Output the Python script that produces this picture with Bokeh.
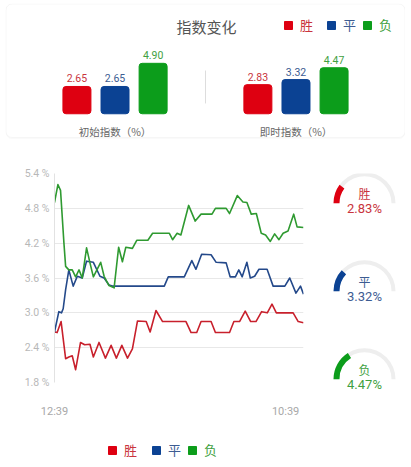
import math
from bokeh.plotting import figure
from bokeh.models import (Range1d, FactorRange, ColumnDataSource, Legend, LegendItem, Label,
                          BoxAnnotation, FixedTicker, PrintfTickFormatter)
from bokeh.layouts import column, row
from bokeh.embed import file_html
from bokeh.resources import INLINE
from bokeh.core.properties import value

# ---------------- data ----------------
outcomes = ["胜", "平", "负"]
bar_colors = ["#de0011", "#0b4293", "#0c9d1b"]
text_colors = ["#c9343d", "#3d5c92", "#3f9f42"]
line_colors = ["#c8202c", "#24498a", "#2f9a31"]
groups = ["初始指数（%）", "即时指数（%）"]
initial_idx = [2.65, 2.65, 4.90]
live_idx = [2.83, 3.32, 4.47]
title_text = "指数变化"

# minutes after 12:39 and index values (%)
win_t = [0, 14, 35, 59, 76, 94, 112, 138, 160, 188, 206, 236, 270, 300, 328, 357, 387, 413,
         440, 486, 507, 538, 573, 697, 724, 754, 777, 830, 853, 928, 951, 981, 1011, 1040,
         1068, 1098, 1128, 1153, 1176, 1265, 1292, 1320]
win_v = [2.67, 2.66, 2.85, 2.21, 2.24, 2.26, 2.02, 2.49, 2.45, 2.46, 2.24, 2.49, 2.22, 2.44,
         2.22, 2.44, 2.22, 2.38, 2.86, 2.85, 2.67, 3.04, 2.85, 2.85, 2.66, 2.66, 2.85, 2.85,
         2.66, 2.66, 2.85, 2.85, 3.03, 2.85, 2.85, 3.02, 3.00, 3.15, 3.00, 3.00, 2.85, 2.83]

draw_t = [0, 23, 37, 46, 59, 76, 99, 121, 147, 170, 206, 241, 263, 289, 307, 582, 603, 688,
          728, 750, 780, 830, 857, 910, 931, 959, 977, 995, 1020, 1038, 1061, 1084, 1127,
          1159, 1221, 1247, 1280, 1304, 1320]
draw_v = [2.67, 3.02, 3.00, 3.07, 3.40, 3.74, 3.46, 3.63, 3.60, 3.89, 3.87, 3.63, 3.60, 3.48,
          3.46, 3.46, 3.62, 3.62, 3.90, 3.75, 4.01, 4.00, 3.87, 3.86, 3.62, 3.62, 3.74, 3.62,
          3.87, 3.60, 3.63, 3.75, 3.75, 3.46, 3.46, 3.60, 3.34, 3.46, 3.32]

loss_t = [0, 18, 32, 50, 59, 76, 94, 112, 130, 147, 170, 188, 206, 245, 263, 289, 316, 340,
          360, 378, 413, 436, 495, 520, 609, 626, 650, 670, 711, 746, 777, 835, 853, 910, 928,
          969, 999, 1020, 1043, 1070, 1096, 1119, 1144, 1167, 1190, 1212, 1238, 1268, 1286, 1320]
loss_v = [4.90, 5.21, 5.11, 4.20, 3.80, 3.74, 3.74, 3.62, 3.74, 3.60, 4.12, 3.86, 3.62, 3.87,
          3.63, 3.47, 3.43, 4.13, 3.88, 4.13, 4.11, 4.25, 4.25, 4.37, 4.37, 4.26, 4.37, 4.34,
          4.85, 4.58, 4.70, 4.70, 4.80, 4.80, 4.71, 5.02, 4.91, 4.90, 4.70, 4.71, 4.37, 4.34,
          4.23, 4.36, 4.26, 4.37, 4.41, 4.70, 4.48, 4.47]

series_t = [win_t, draw_t, loss_t]
series_v = [win_v, draw_v, loss_v]

y_ticks = [1.8, 2.4, 3.0, 3.6, 4.2, 4.8, 5.4]
x_tick_pos = [0, 1225]
x_tick_labels = ["12:39", "10:39"]
gauge_max = 14.0

CJK = "Noto Sans CJK SC"
NUM = "Roboto"

# ---------------- top card: bar chart ----------------
factors = [(g, o) for g in groups for o in outcomes]
xr = FactorRange(*factors, group_padding=1.75, factor_padding=0.0,
                 range_padding=1.375, range_padding_units="absolute")
top = figure(width=400, height=136, x_range=xr, y_range=Range1d(-2.5, 10.71),
             output_backend="svg", toolbar_location=None,
             x_axis_location=None, y_axis_location=None,
             min_border_left=0, min_border_right=0, min_border_top=0, min_border_bottom=0,
             outline_line_color=None, background_fill_color="white", border_fill_color="white")
top.grid.visible = False

shadow = BoxAnnotation(left=0.5, right=399.5, bottom=1, top=134.5,
                       left_units="screen", right_units="screen",
                       bottom_units="screen", top_units="screen",
                       fill_alpha=0.0, line_color="#f0f0f0", line_width=1,
                       border_radius=6, level="underlay")
card = BoxAnnotation(left=0.5, right=399.5, bottom=2, top=135.5,
                     left_units="screen", right_units="screen",
                     bottom_units="screen", top_units="screen",
                     fill_color="white", fill_alpha=1.0,
                     line_color="#e2e2e2", line_width=1, border_radius=6, level="underlay")
top.add_layout(shadow)
top.add_layout(card)

bar_renderers = []
for i, o in enumerate(outcomes):
    src = ColumnDataSource(dict(x=[(g, o) for g in groups],
                                top=[initial_idx[i], live_idx[i]],
                                lbl=[f"{initial_idx[i]:.2f}", f"{live_idx[i]:.2f}"]))
    r = top.vbar(x="x", top="top", bottom=0, width=0.735, source=src,
                 fill_color=bar_colors[i], line_color=bar_colors[i], border_radius=3)
    bar_renderers.append(r)
    top.text(x="x", y="top", text="lbl", source=src, text_align="center",
             text_baseline="bottom", y_offset=-4, text_font=value(NUM),
             text_font_size="10.5px", text_color=text_colors[i])

top.text(x=groups, y=[0, 0], text=groups, text_align="center", text_baseline="middle",
         y_offset=18, text_font=value(CJK), text_font_size="10.5px", text_color="#666666")

gap_mid = len(outcomes) + xr.group_padding / 2
top.segment(x0=[gap_mid], x1=[gap_mid], y0=[1.0], y1=[4.2], line_color="#dddddd", line_width=1)

top.add_layout(Label(x=201, y=113, x_units="screen", y_units="screen", text=title_text,
                     text_align="center", text_baseline="middle", text_font=CJK,
                     text_font_size="15px", text_color="#555555"))

top_leg_x = [278, 321, 357]
for i, o in enumerate(outcomes):
    lg = Legend(items=[LegendItem(label=o, renderers=[bar_renderers[i]])],
                location=(top_leg_x[i], 105), orientation="horizontal",
                padding=0, margin=0, spacing=0, label_standoff=7,
                glyph_width=10, glyph_height=10, label_height=10,
                label_text_font=CJK, label_text_font_size="13px",
                label_text_color=text_colors[i],
                border_line_color=None, background_fill_alpha=0.0)
    top.add_layout(lg)

# ---------------- line chart ----------------
lf = figure(width=315, height=281, x_range=Range1d(0, 1320), y_range=Range1d(1.8, 5.4),
            output_backend="svg", toolbar_location=None,
            min_border_left=49, min_border_right=17, min_border_top=34, min_border_bottom=36,
            outline_line_color=None)
for i in range(3):
    lf.line(series_t[i], series_v[i], line_color=line_colors[i], line_width=1.6,
            line_join="round")

lf.yaxis.ticker = FixedTicker(ticks=y_ticks)
lf.yaxis.formatter = PrintfTickFormatter(format="%.1f %%")
lf.yaxis.major_tick_line_color = None
lf.yaxis.major_tick_out = 0
lf.yaxis.minor_tick_line_color = None
lf.yaxis.axis_line_color = "#e2e2e2"
lf.yaxis.major_label_standoff = 5
lf.yaxis.major_label_text_font = NUM
lf.yaxis.major_label_text_font_size = "10.5px"
lf.yaxis.major_label_text_color = "#b8b8b8"

lf.xaxis.ticker = FixedTicker(ticks=x_tick_pos)
lf.xaxis.major_label_overrides = {p: l for p, l in zip(x_tick_pos, x_tick_labels)}
lf.xaxis.major_tick_line_color = None
lf.xaxis.major_tick_out = 0
lf.xaxis.minor_tick_line_color = None
lf.xaxis.axis_line_color = None
lf.xaxis.major_label_standoff = 22
lf.xaxis.major_label_text_font = NUM
lf.xaxis.major_label_text_font_size = "11px"
lf.xaxis.major_label_text_color = "#a8a8a8"

lf.xgrid.grid_line_color = None
lf.ygrid.grid_line_color = "#e8e8e8"
lf.ygrid.grid_line_width = 1

# ---------------- gauges ----------------
gauge_rank = [len(outcomes) - 1 - i for i in range(len(outcomes))]  # top to bottom
gf = figure(width=85, height=295, x_range=Range1d(-1, 1), y_range=Range1d(-0.197, 2.338),
            output_backend="svg", toolbar_location=None,
            x_axis_location=None, y_axis_location=None,
            min_border_left=3, min_border_right=0, min_border_top=34, min_border_bottom=36,
            outline_line_color=None)
gf.grid.visible = False
gsrc = ColumnDataSource(dict(
    y=gauge_rank,
    name=outcomes,
    start=[math.pi - v / gauge_max * math.pi for v in live_idx],
    end=[math.pi] * 3,
    color=bar_colors,
    tcolor=text_colors,
    pct=[f"{v:.2f}%" for v in live_idx],
))
gf.annular_wedge(x=0, y="y", inner_radius=27, outer_radius=31,
                 inner_radius_units="screen", outer_radius_units="screen",
                 start_angle=0, end_angle=math.pi, source=gsrc,
                 fill_color="#eeeeee", line_color=None)
gf.annular_wedge(x=0, y="y", inner_radius=25, outer_radius=31,
                 inner_radius_units="screen", outer_radius_units="screen",
                 start_angle="start", end_angle="end", source=gsrc,
                 fill_color="color", line_color=None)
gf.text(x=0, y="y", text="name", source=gsrc, text_align="center", text_baseline="middle",
        y_offset=-10, text_font=value(CJK), text_font_size="12px", text_color="tcolor")
gf.text(x=0, y="y", text="pct", source=gsrc, text_align="center", text_baseline="middle",
        y_offset=5, text_font=value(NUM), text_font_size="13px", text_color="tcolor")

# ---------------- bottom legend ----------------
lg_fig = figure(width=400, height=25, x_range=Range1d(0, 1), y_range=Range1d(0, 1),
                output_backend="svg", toolbar_location=None,
                x_axis_location=None, y_axis_location=None,
                min_border_left=0, min_border_right=0, min_border_top=0, min_border_bottom=0,
                outline_line_color=None)
lg_fig.grid.visible = False
bot_leg_x = [102, 146, 182]
for i, o in enumerate(outcomes):
    # single off-range square so that the legend has a glyph to draw
    r = lg_fig.rect(x=[-5], y=[-5], width=1, height=1, fill_color=bar_colors[i],
                    line_color=bar_colors[i])
    lg = Legend(items=[LegendItem(label=o, renderers=[r])],
                location=(bot_leg_x[i], 0), orientation="horizontal",
                padding=0, margin=0, spacing=0, label_standoff=7,
                glyph_width=10, glyph_height=10, label_height=10,
                label_text_font=CJK, label_text_font_size="13px",
                label_text_color=text_colors[i],
                border_line_color=None, background_fill_alpha=0.0)
    lg_fig.add_layout(lg)

layout = column(top, row(lf, gf, spacing=0), lg_fig, spacing=0, margin=(3, 0, 0, 5))

with open("out.html", "w") as f:
    f.write(file_html(layout, INLINE))
